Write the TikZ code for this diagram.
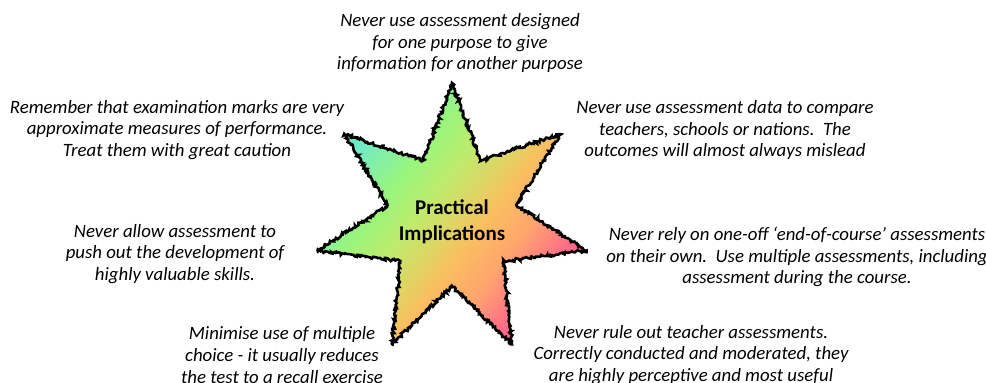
\documentclass[tikz,border=0pt]{standalone}
\usepackage{fontspec}
\setmainfont{Carlito}
\usetikzlibrary{decorations.pathmorphing}
\definecolor{tealc}{RGB}{95,226,205}
\definecolor{cyanc}{RGB}{115,236,195}
\definecolor{greenc}{RGB}{152,245,125}
\definecolor{ygreenc}{RGB}{190,235,108}
\definecolor{yellowc}{RGB}{222,213,100}
\definecolor{orangec}{RGB}{250,190,95}
\definecolor{lorangec}{RGB}{255,165,110}
\definecolor{pinkc}{RGB}{255,100,140}
\pgfdeclarehorizontalshading{starshade}{100bp}{%
  color(0bp)=(tealc);
  color(24bp)=(tealc);
  color(29bp)=(cyanc);
  color(38bp)=(greenc);
  color(45bp)=(ygreenc);
  color(51bp)=(yellowc);
  color(56bp)=(orangec);
  color(63bp)=(lorangec);
  color(72bp)=(pinkc);
  color(100bp)=(pinkc)}
\tikzset{
  note/.style={align=center, inner sep=0pt, font=\fontsize{18.8}{21.8}\selectfont\itshape},
  title/.style={align=center, inner sep=0pt, font=\fontsize{21}{26.5}\selectfont\bfseries},
  jag/.style={draw=black, line width=2.6pt, line join=miter, miter limit=4,
    decorate, decoration={random steps, segment length=1.4pt, amplitude=1.5pt}},
}
\pgfmathsetseed{7}
\begin{document}
\begin{tikzpicture}[x=1pt,y=-1pt]
\useasboundingbox (0,0) rectangle (986,383);
\def\starpath{(452,83) \foreach \k in {1,...,13} {
    -- ({452+(mod(\k,2)==0?138:66)*cos(90+\k*25.7143)},{220-(mod(\k,2)==0?138:66)*sin(90+\k*25.7143)}) } -- cycle}
\shade[shading=starshade, shading angle=-38] \starpath;
\path[jag] \starpath;
\node[title] (c) at (452,222) {Practical\\Implications};
\node[note] (t1) at (460,43) {Never use assessment designed\\for one purpose to give\\information for another purpose};
\node[note] (t2) at (177,130) {Remember that examination marks are very\\approximate measures of performance.\\Treat them with great caution};
\node[note] (t3) at (725,130) {Never use assessment data to compare\\teachers, schools or nations.\ \ The\\outcomes will almost always mislead};
\node[note] (t4) at (175,254) {Never allow assessment to\\push out the development of\\highly valuable skills.};
\node[note] (t5) at (797,257) {Never rely on one-off ‘end-of-course’ assessments\\on their own.\ \ Use multiple assessments, including\\assessment during the course.};
\node[note] (t6) at (282,355) {Minimise use of multiple\\choice - it usually reduces\\the test to a recall exercise};
\node[note] (t7) at (691,355) {Never rule out teacher assessments.\\Correctly conducted and moderated, they\\are highly perceptive and most useful};
\end{tikzpicture}
\end{document}
